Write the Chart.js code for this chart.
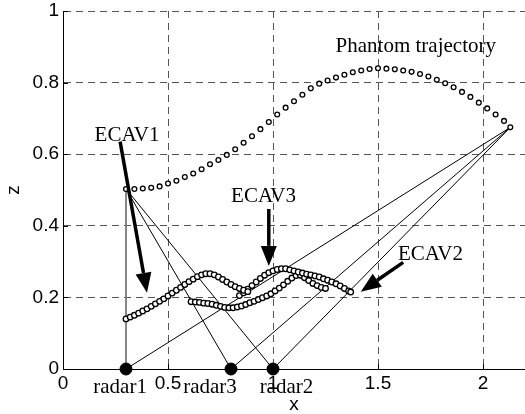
<!DOCTYPE html>
<html>
<head>
<meta charset="utf-8">
<script src="https://cdn.jsdelivr.net/npm/chart.js@4/dist/chart.umd.min.js"></script>
<style>
  html, body { margin: 0; padding: 0; background: #fff; }
</style>
</head>
<body>
<canvas id="chart" width="525" height="414"></canvas>
<script>
// phantom trajectory (x, z)
const phantomX = [0.30, 0.34, 0.38, 0.42, 0.46, 0.50, 0.54, 0.58, 0.62, 0.66, 0.70, 0.74, 0.78, 0.82,
  0.86, 0.90, 0.94, 0.98, 1.02, 1.06, 1.10, 1.14, 1.18, 1.22, 1.26, 1.30, 1.34, 1.38, 1.42, 1.46,
  1.50, 1.54, 1.58, 1.62, 1.66, 1.70, 1.74, 1.78, 1.82, 1.86, 1.90, 1.94, 1.98, 2.02, 2.06, 2.10, 2.13];
const phantomZ = [0.503, 0.503, 0.504, 0.506, 0.510, 0.518, 0.526, 0.536, 0.546, 0.558, 0.572, 0.584, 0.598, 0.614,
  0.632, 0.650, 0.670, 0.690, 0.711, 0.730, 0.748, 0.766, 0.784, 0.797, 0.806, 0.814, 0.822, 0.829, 0.834, 0.838,
  0.840, 0.839, 0.837, 0.834, 0.830, 0.824, 0.817, 0.808, 0.798, 0.787, 0.774, 0.760, 0.744, 0.728, 0.711, 0.693, 0.675];

// ECAV trajectories
const ecav1X = [0.30, 0.32, 0.34, 0.36, 0.38, 0.40, 0.42, 0.44, 0.46, 0.48, 0.50, 0.52, 0.54, 0.56, 0.58,
  0.60, 0.62, 0.64, 0.66, 0.68, 0.70, 0.72, 0.74, 0.76, 0.78, 0.80, 0.82, 0.84, 0.86, 0.88];
const ecav1Z = [0.140, 0.145, 0.150, 0.156, 0.162, 0.168, 0.175, 0.182, 0.189, 0.196, 0.204, 0.212, 0.220, 0.228, 0.236,
  0.244, 0.251, 0.258, 0.263, 0.266, 0.266, 0.263, 0.257, 0.250, 0.243, 0.236, 0.230, 0.225, 0.220, 0.216];

const ecav2X = [0.84, 0.86, 0.88, 0.90, 0.92, 0.94, 0.96, 0.98, 1.00, 1.02, 1.04, 1.06, 1.08, 1.10, 1.12,
  1.14, 1.16, 1.18, 1.20, 1.22, 1.24, 1.26, 1.28, 1.30, 1.32, 1.34, 1.36, 1.37];
const ecav2Z = [0.205, 0.213, 0.223, 0.233, 0.243, 0.253, 0.262, 0.269, 0.274, 0.278, 0.280, 0.280, 0.277, 0.274, 0.271,
  0.268, 0.265, 0.263, 0.260, 0.257, 0.252, 0.248, 0.243, 0.238, 0.232, 0.225, 0.218, 0.215];

const ecav3X = [0.61, 0.63, 0.65, 0.67, 0.69, 0.71, 0.73, 0.75, 0.77, 0.79, 0.81, 0.83, 0.85, 0.87, 0.89,
  0.91, 0.93, 0.95, 0.97, 0.99, 1.01, 1.03, 1.05, 1.07, 1.09, 1.11, 1.13, 1.15, 1.17, 1.19, 1.21, 1.23, 1.25];
const ecav3Z = [0.188, 0.187, 0.186, 0.184, 0.183, 0.181, 0.178, 0.175, 0.172, 0.171, 0.171, 0.173, 0.176, 0.180, 0.185,
  0.189, 0.194, 0.199, 0.204, 0.210, 0.218, 0.226, 0.235, 0.245, 0.254, 0.261, 0.262, 0.255, 0.247, 0.239, 0.233, 0.228, 0.225];

// radars on the ground
const radarNames = ['radar1', 'radar3', 'radar2'];
const radarX = [0.3, 0.8, 1.0];
const radarZ = [0, 0, 0];

const xTicks = [0, 0.5, 1, 1.5, 2];
const yTicks = [0, 0.2, 0.4, 0.6, 0.8, 1];

// text notes and arrows, in data units
const notes = [
  { text: 'Phantom trajectory', x: 1.68, z: 0.900 },
  { text: 'ECAV1', x: 0.305, z: 0.652 },
  { text: 'ECAV3', x: 0.955, z: 0.482 },
  { text: 'ECAV2', x: 1.75, z: 0.320 },
  { text: radarNames[0], x: 0.272, z: -0.053 },
  { text: radarNames[1], x: 0.700, z: -0.053 },
  { text: radarNames[2], x: 1.064, z: -0.053 }
];
const arrows = [
  { x1: 0.272, z1: 0.635, x2: 0.40, z2: 0.213 },
  { x1: 0.98, z1: 0.447, x2: 0.98, z2: 0.288 },
  { x1: 1.62, z1: 0.298, x2: 1.418, z2: 0.216 }
];

const pts = (xs, zs) => xs.map((v, i) => ({ x: v, y: zs[i] }));

// sight lines from first and last phantom point to every radar
const first = { x: phantomX[0], y: phantomZ[0] };
const last = { x: phantomX[phantomX.length - 1], y: phantomZ[phantomZ.length - 1] };
const sightLines = [];
radarX.forEach((rx, i) => {
    [first, last].forEach((p) => {
        sightLines.push({
            data: [p, { x: rx, y: radarZ[i] }],
            showLine: true,
            borderColor: (rx === p.x) ? '#777' : '#000',
            borderWidth: 1,
            pointRadius: 0,
            order: 3
        });
    });
});

const markerStyle = {
    showLine: false,
    pointRadius: 2.8,
    pointBorderWidth: 1.3,
    borderColor: '#000',
    backgroundColor: '#fff',
    pointBorderColor: '#000',
    pointBackgroundColor: '#fff'
};

const overlay = {
    id: 'overlay',
    afterDatasetsDraw(chart) {
        const { ctx, scales: { x, y } } = chart;
        ctx.save();
        // inward tick marks
        ctx.strokeStyle = '#000';
        ctx.lineWidth = 1;
        xTicks.forEach((v) => {
            const px = Math.round(x.getPixelForValue(v)) + 0.5;
            ctx.beginPath();
            ctx.moveTo(px, y.bottom);
            ctx.lineTo(px, y.bottom - 5);
            ctx.stroke();
        });
        yTicks.forEach((v) => {
            const py = Math.round(y.getPixelForValue(v)) + 0.5;
            ctx.beginPath();
            ctx.moveTo(x.left, py);
            ctx.lineTo(x.left + 5, py);
            ctx.stroke();
        });
        // arrows
        ctx.fillStyle = '#000';
        arrows.forEach((a) => {
            const x1 = x.getPixelForValue(a.x1), y1 = y.getPixelForValue(a.z1);
            const x2 = x.getPixelForValue(a.x2), y2 = y.getPixelForValue(a.z2);
            const ang = Math.atan2(y2 - y1, x2 - x1);
            const head = 20, half = 8;
            const bx = x2 - head * Math.cos(ang), by = y2 - head * Math.sin(ang);
            ctx.lineWidth = 3.5;
            ctx.beginPath();
            ctx.moveTo(x1, y1);
            ctx.lineTo(bx, by);
            ctx.stroke();
            ctx.beginPath();
            ctx.moveTo(x2, y2);
            ctx.lineTo(bx + half * Math.sin(ang), by - half * Math.cos(ang));
            ctx.lineTo(bx - half * Math.sin(ang), by + half * Math.cos(ang));
            ctx.closePath();
            ctx.fill();
        });
        // labels
        ctx.font = '21px "Liberation Serif", "Times New Roman", serif';
        ctx.textAlign = 'center';
        ctx.textBaseline = 'middle';
        notes.forEach((n) => {
            ctx.fillText(n.text, x.getPixelForValue(n.x), y.getPixelForValue(n.z));
        });
        ctx.restore();
    }
};

const gridStyle = {
    color: '#555',
    lineWidth: 1,
    drawTicks: false
};
const tickFont = { family: '"Liberation Sans", Arial, sans-serif', size: 19 };

new Chart(document.getElementById('chart'), {
    type: 'scatter',
    data: {
        datasets: [
            ...sightLines,
            { label: 'Phantom trajectory', data: pts(phantomX, phantomZ), ...markerStyle, pointRadius: 2.4, order: 2 },
            { label: 'ECAV1', data: pts(ecav1X, ecav1Z), ...markerStyle, order: 2 },
            { label: 'ECAV2', data: pts(ecav2X, ecav2Z), ...markerStyle, order: 2 },
            { label: 'ECAV3', data: pts(ecav3X, ecav3Z), ...markerStyle, order: 2 },
            {
                label: 'radars',
                data: pts(radarX, radarZ),
                showLine: false,
                pointRadius: 6,
                borderColor: '#000',
                backgroundColor: '#000',
                pointBackgroundColor: '#000',
                clip: false,
                order: 1
            }
        ]
    },
    options: {
        responsive: false,
        animation: false,
        events: [],
        layout: { autoPadding: false, padding: { top: 11, right: 0, left: 0, bottom: 0 } },
        plugins: {
            legend: { display: false },
            tooltip: { enabled: false }
        },
        scales: {
            x: {
                type: 'linear',
                min: 0,
                max: 2.2,
                afterBuildTicks: (s) => { s.ticks = xTicks.map((v) => ({ value: v })); },
                afterFit: (s) => { s.height = 45; s.paddingLeft = 0; s.paddingRight = 0; },
                grid: { ...gridStyle },
                border: { display: true, color: '#000', width: 1, dash: [7, 5] },
                ticks: {
                    padding: 3,
                    color: '#000',
                    font: tickFont,
                    maxRotation: 0,
                    callback: (v) => String(v)
                },
                title: {
                    display: true,
                    text: 'x',
                    color: '#000',
                    padding: { top: 0, bottom: -2 },
                    font: tickFont
                }
            },
            y: {
                type: 'linear',
                min: 0,
                max: 1,
                afterBuildTicks: (s) => { s.ticks = yTicks.map((v) => ({ value: v })); },
                afterFit: (s) => { s.width = 63; s.paddingTop = 0; s.paddingBottom = 0; },
                grid: { ...gridStyle },
                border: { display: true, color: '#000', width: 1, dash: [7, 5] },
                ticks: {
                    padding: 4,
                    color: '#000',
                    font: tickFont,
                    callback: (v) => String(v)
                },
                title: {
                    display: true,
                    text: 'z',
                    color: '#000',
                    padding: { top: 2, bottom: 0 },
                    font: tickFont
                }
            }
        }
    },
    plugins: [overlay]
});
</script>
</body>
</html>
